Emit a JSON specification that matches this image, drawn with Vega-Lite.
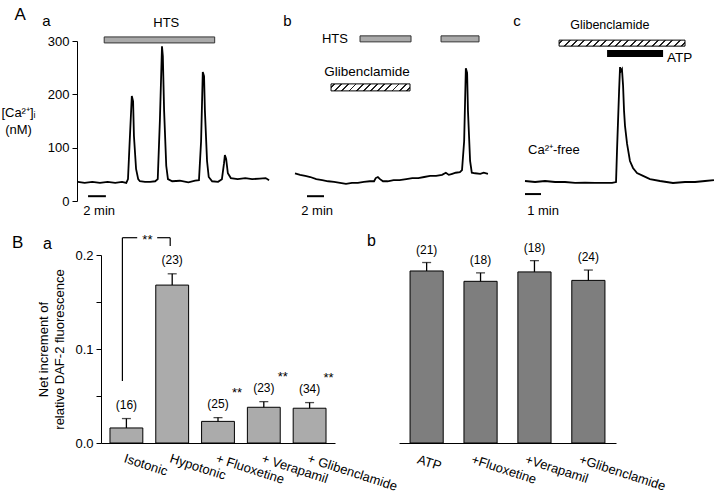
{
  "$schema": "https://vega.github.io/schema/vega-lite/v6.json",
  "background": "white",
  "padding": {"left": 0, "top": 5, "right": 2, "bottom": 2},
  "config": {
    "font": "Liberation Sans",
    "view": {"stroke": null},
    "scale": {"continuousPadding": 0},
    "axis": {"labelColor": "black", "titleColor": "black", "domainColor": "black", "tickColor": "black", "grid": false, "labelFontSize": 13, "titleFontWeight": "normal", "titleFontSize": 13},
    "title": {"fontWeight": "normal", "color": "black", "fontSize": 16}
  },
  "bounds": "flush",
  "spacing": 214,
  "vconcat": [
    {
      "bounds": "flush",
      "spacing": 0,
      "hconcat": [
        {
          "width": 218, "height": 160,
          "layer": [
            {
              "data": {"values": [
                {"t":0.1,"v":36},{"t":0.9,"v":34},{"t":1.8,"v":36},{"t":2.7,"v":34},{"t":3.6,"v":36},{"t":4.5,"v":34},{"t":5.3,"v":36},{"t":5.8,"v":34},
                {"t":6.0,"v":41},{"t":6.2,"v":112},{"t":6.45,"v":197},{"t":6.6,"v":187},{"t":6.7,"v":122},{"t":6.95,"v":60},{"t":7.2,"v":41},{"t":7.4,"v":37},
                {"t":8.0,"v":36},{"t":8.6,"v":36},{"t":9.2,"v":37},{"t":9.5,"v":41},{"t":9.75,"v":150},{"t":10.0,"v":290},{"t":10.1,"v":272},{"t":10.25,"v":169},
                {"t":10.5,"v":66},{"t":10.7,"v":41},{"t":11.2,"v":37},{"t":12.1,"v":38},{"t":13.1,"v":35},{"t":13.9,"v":38},{"t":14.35,"v":39},{"t":14.6,"v":112},
                {"t":14.8,"v":242},{"t":14.95,"v":234},{"t":15.05,"v":169},{"t":15.3,"v":75},{"t":15.5,"v":45},{"t":15.9,"v":37},{"t":16.6,"v":36},{"t":17.05,"v":41},
                {"t":17.3,"v":71},{"t":17.4,"v":86},{"t":17.55,"v":79},{"t":17.75,"v":52},{"t":18.1,"v":43},{"t":18.9,"v":41},{"t":19.8,"v":43},{"t":20.6,"v":41},
                {"t":21.5,"v":42},{"t":22.2,"v":43},{"t":22.6,"v":39}
              ]},
              "mark": {"type": "line", "color": "black", "strokeWidth": 1.8},
              "encoding": {
                "x": {"field": "t", "type": "quantitative", "scale": {"domain": [0, 25.65]}, "axis": null},
                "y": {"field": "v", "type": "quantitative", "scale": {"domain": [0, 300]},
                  "axis": {"values": [0,50,100,150,200,250,300], "labelExpr": "datum.value % 100 == 0 ? datum.label : ''", "tickSize": 5, "labelPadding": 3,
                    "title": ["[Ca²⁺]ᵢ", "(nM)"], "titleAngle": 0, "titleAlign": "center", "titleBaseline": "alphabetic", "titleX": -59, "titleY": 75, "titleLineHeight": 17}}
              }
            },
            {
              "data": {"values": [{"start": 3.2, "end": 16.2}]},
              "mark": {"type": "bar", "height": 6, "fill": "#aaaaaa", "stroke": "#333", "strokeWidth": 1},
              "encoding": {"x": {"field": "start", "type": "quantitative", "scale": {"domain": [0, 25.65]}}, "x2": {"field": "end"}, "y": {"datum": 302, "scale": {"domain": [0, 300]}}}
            },
            {"data": {"values": [{}]}, "mark": {"type": "text", "text": "HTS", "fontSize": 13}, "encoding": {"x": {"datum": 10.5, "scale": {"domain": [0, 25.65]}}, "y": {"datum": 334, "scale": {"domain": [0, 300]}}}},
            {"data": {"values": [{}]}, "mark": {"type": "text", "text": "A", "fontSize": 17}, "encoding": {"x": {"datum": -6.7, "scale": {"domain": [0, 25.65]}}, "y": {"datum": 349, "scale": {"domain": [0, 300]}}}},
            {"data": {"values": [{}]}, "mark": {"type": "text", "text": "a", "fontSize": 15}, "encoding": {"x": {"datum": -3.6, "scale": {"domain": [0, 25.65]}}, "y": {"datum": 338, "scale": {"domain": [0, 300]}}}},
            {
              "data": {"values": [{"start": 1.3, "end": 3.4}]},
              "mark": {"type": "rule", "color": "black", "strokeWidth": 2},
              "encoding": {"x": {"field": "start", "type": "quantitative", "scale": {"domain": [0, 25.65]}}, "x2": {"field": "end"}, "y": {"datum": 9, "scale": {"domain": [0, 300]}}}
            },
            {"data": {"values": [{}]}, "mark": {"type": "text", "text": "2 min", "fontSize": 13}, "encoding": {"x": {"datum": 2.6, "scale": {"domain": [0, 25.65]}}, "y": {"datum": -19, "scale": {"domain": [0, 300]}}}}
          ]
        },
        {
          "width": 230, "height": 160,
          "layer": [
            {
              "data": {"values": [
                {"t":0,"v":52},{"t":0.6,"v":49},{"t":1.2,"v":47},{"t":1.8,"v":45},{"t":2.5,"v":41},{"t":3.2,"v":39},{"t":3.9,"v":37},{"t":4.6,"v":36},
                {"t":5.3,"v":34},{"t":6.0,"v":32},{"t":6.7,"v":34},{"t":7.4,"v":34},{"t":8.1,"v":36},{"t":8.8,"v":37},{"t":9.3,"v":37},{"t":9.5,"v":43},
                {"t":9.75,"v":45},{"t":10.0,"v":41},{"t":10.35,"v":37},{"t":10.9,"v":37},{"t":11.6,"v":39},{"t":12.3,"v":39},{"t":13.1,"v":41},{"t":13.8,"v":43},
                {"t":14.5,"v":43},{"t":15.2,"v":45},{"t":15.9,"v":47},{"t":16.6,"v":47},{"t":17.3,"v":49},{"t":17.75,"v":53},{"t":18.1,"v":49},{"t":18.5,"v":51},
                {"t":18.9,"v":53},{"t":19.4,"v":54},{"t":19.65,"v":58},{"t":19.9,"v":112},{"t":20.1,"v":249},{"t":20.25,"v":240},{"t":20.35,"v":169},{"t":20.6,"v":75},
                {"t":20.8,"v":53},{"t":21.2,"v":52},{"t":21.8,"v":51},{"t":22.2,"v":53},{"t":22.7,"v":51}
              ]},
              "mark": {"type": "line", "color": "black", "strokeWidth": 1.8},
              "encoding": {
                "x": {"field": "t", "type": "quantitative", "scale": {"domain": [0, 27.06]}, "axis": null},
                "y": {"field": "v", "type": "quantitative", "scale": {"domain": [0, 300]}, "axis": null}
              }
            },
            {
              "data": {"values": [{"start": 7.65, "end": 13.65}, {"start": 17.18, "end": 21.65}]},
              "mark": {"type": "bar", "height": 6, "fill": "#aaaaaa", "stroke": "#333", "strokeWidth": 1},
              "encoding": {"x": {"field": "start", "type": "quantitative", "scale": {"domain": [0, 27.06]}}, "x2": {"field": "end"}, "y": {"datum": 304, "scale": {"domain": [0, 300]}}}
            },
            {"data": {"values": [{}]}, "mark": {"type": "text", "text": "HTS", "fontSize": 13}, "encoding": {"x": {"datum": 4.7, "scale": {"domain": [0, 27.06]}}, "y": {"datum": 304, "scale": {"domain": [0, 300]}}}},
            {
              "data": {"values": [{"start": 4.24, "end": 13.53}]},
              "mark": {"type": "bar", "height": 7, "stroke": "black", "strokeWidth": 1,
                "fill": {"gradient": "linear", "x1": 0, "y1": 0, "x2": 1.08, "y2": 0.096, "stops": [
                  {"offset":0,"color":"white"},
                  {"offset":0.031,"color":"white"},{"offset":0.031,"color":"#222"},{"offset":0.053,"color":"#222"},{"offset":0.053,"color":"white"},
                  {"offset":0.114,"color":"white"},{"offset":0.114,"color":"#222"},{"offset":0.136,"color":"#222"},{"offset":0.136,"color":"white"},
                  {"offset":0.197,"color":"white"},{"offset":0.197,"color":"#222"},{"offset":0.219,"color":"#222"},{"offset":0.219,"color":"white"},
                  {"offset":0.281,"color":"white"},{"offset":0.281,"color":"#222"},{"offset":0.303,"color":"#222"},{"offset":0.303,"color":"white"},
                  {"offset":0.364,"color":"white"},{"offset":0.364,"color":"#222"},{"offset":0.386,"color":"#222"},{"offset":0.386,"color":"white"},
                  {"offset":0.447,"color":"white"},{"offset":0.447,"color":"#222"},{"offset":0.469,"color":"#222"},{"offset":0.469,"color":"white"},
                  {"offset":0.531,"color":"white"},{"offset":0.531,"color":"#222"},{"offset":0.553,"color":"#222"},{"offset":0.553,"color":"white"},
                  {"offset":0.614,"color":"white"},{"offset":0.614,"color":"#222"},{"offset":0.636,"color":"#222"},{"offset":0.636,"color":"white"},
                  {"offset":0.697,"color":"white"},{"offset":0.697,"color":"#222"},{"offset":0.719,"color":"#222"},{"offset":0.719,"color":"white"},
                  {"offset":0.781,"color":"white"},{"offset":0.781,"color":"#222"},{"offset":0.803,"color":"#222"},{"offset":0.803,"color":"white"},
                  {"offset":0.864,"color":"white"},{"offset":0.864,"color":"#222"},{"offset":0.886,"color":"#222"},{"offset":0.886,"color":"white"},
                  {"offset":0.947,"color":"white"},{"offset":0.947,"color":"#222"},{"offset":0.969,"color":"#222"},{"offset":0.969,"color":"white"},
                  {"offset":1,"color":"white"}
                ]}},
              "encoding": {"x": {"field": "start", "type": "quantitative", "scale": {"domain": [0, 27.06]}}, "x2": {"field": "end"}, "y": {"datum": 213, "scale": {"domain": [0, 300]}}}
            },
            {"data": {"values": [{}]}, "mark": {"type": "text", "text": "Glibenclamide", "fontSize": 13.5}, "encoding": {"x": {"datum": 8.47, "scale": {"domain": [0, 27.06]}}, "y": {"datum": 242, "scale": {"domain": [0, 300]}}}},
            {"data": {"values": [{}]}, "mark": {"type": "text", "text": "b", "fontSize": 15}, "encoding": {"x": {"datum": -0.9, "scale": {"domain": [0, 27.06]}}, "y": {"datum": 338, "scale": {"domain": [0, 300]}}}},
            {
              "data": {"values": [{"start": 1.41, "end": 3.41}]},
              "mark": {"type": "rule", "color": "black", "strokeWidth": 2},
              "encoding": {"x": {"field": "start", "type": "quantitative", "scale": {"domain": [0, 27.06]}}, "x2": {"field": "end"}, "y": {"datum": 9, "scale": {"domain": [0, 300]}}}
            },
            {"data": {"values": [{}]}, "mark": {"type": "text", "text": "2 min", "fontSize": 13}, "encoding": {"x": {"datum": 2.6, "scale": {"domain": [0, 27.06]}}, "y": {"datum": -19, "scale": {"domain": [0, 300]}}}}
          ]
        },
        {
          "width": 190, "height": 160,
          "layer": [
            {
              "data": {"values": [
                {"t":0,"v":37.5},{"t":0.63,"v":35.6},{"t":1.25,"v":37.5},{"t":1.88,"v":35.6},{"t":2.5,"v":35.6},{"t":3.13,"v":33.8},{"t":3.75,"v":34.5},
                {"t":4.38,"v":33.8},{"t":5.0,"v":33.8},{"t":5.44,"v":33.8},{"t":5.69,"v":35.6},{"t":5.75,"v":94},{"t":5.88,"v":206},{"t":5.94,"v":251},
                {"t":6.0,"v":244},{"t":6.06,"v":247},{"t":6.13,"v":216},{"t":6.19,"v":169},{"t":6.25,"v":141},{"t":6.38,"v":107},{"t":6.56,"v":75},
                {"t":6.75,"v":62},{"t":7.0,"v":52.5},{"t":7.38,"v":47},{"t":7.81,"v":41},{"t":8.44,"v":37.5},{"t":9.25,"v":33.8},{"t":10.0,"v":35.6},
                {"t":10.63,"v":35.6},{"t":11.25,"v":37.5},{"t":11.81,"v":39}
              ]},
              "mark": {"type": "line", "color": "black", "strokeWidth": 1.8},
              "encoding": {
                "x": {"field": "t", "type": "quantitative", "scale": {"domain": [0, 11.875]}, "axis": null},
                "y": {"field": "v", "type": "quantitative", "scale": {"domain": [0, 300]}, "axis": null}
              }
            },
            {
              "data": {"values": [{"start": 2.13, "end": 10.0}]},
              "mark": {"type": "bar", "height": 6, "stroke": "black", "strokeWidth": 1,
                "fill": {"gradient": "linear", "x1": 0, "y1": 0, "x2": 1.045, "y2": 0.05, "stops": [
                  {"offset":0,"color":"white"},
                  {"offset":0.020,"color":"white"},{"offset":0.020,"color":"#222"},{"offset":0.036,"color":"#222"},{"offset":0.036,"color":"white"},
                  {"offset":0.075,"color":"white"},{"offset":0.075,"color":"#222"},{"offset":0.091,"color":"#222"},{"offset":0.091,"color":"white"},
                  {"offset":0.131,"color":"white"},{"offset":0.131,"color":"#222"},{"offset":0.147,"color":"#222"},{"offset":0.147,"color":"white"},
                  {"offset":0.186,"color":"white"},{"offset":0.186,"color":"#222"},{"offset":0.202,"color":"#222"},{"offset":0.202,"color":"white"},
                  {"offset":0.242,"color":"white"},{"offset":0.242,"color":"#222"},{"offset":0.258,"color":"#222"},{"offset":0.258,"color":"white"},
                  {"offset":0.298,"color":"white"},{"offset":0.298,"color":"#222"},{"offset":0.314,"color":"#222"},{"offset":0.314,"color":"white"},
                  {"offset":0.353,"color":"white"},{"offset":0.353,"color":"#222"},{"offset":0.369,"color":"#222"},{"offset":0.369,"color":"white"},
                  {"offset":0.409,"color":"white"},{"offset":0.409,"color":"#222"},{"offset":0.425,"color":"#222"},{"offset":0.425,"color":"white"},
                  {"offset":0.464,"color":"white"},{"offset":0.464,"color":"#222"},{"offset":0.480,"color":"#222"},{"offset":0.480,"color":"white"},
                  {"offset":0.520,"color":"white"},{"offset":0.520,"color":"#222"},{"offset":0.536,"color":"#222"},{"offset":0.536,"color":"white"},
                  {"offset":0.575,"color":"white"},{"offset":0.575,"color":"#222"},{"offset":0.591,"color":"#222"},{"offset":0.591,"color":"white"},
                  {"offset":0.631,"color":"white"},{"offset":0.631,"color":"#222"},{"offset":0.647,"color":"#222"},{"offset":0.647,"color":"white"},
                  {"offset":0.686,"color":"white"},{"offset":0.686,"color":"#222"},{"offset":0.702,"color":"#222"},{"offset":0.702,"color":"white"},
                  {"offset":0.742,"color":"white"},{"offset":0.742,"color":"#222"},{"offset":0.758,"color":"#222"},{"offset":0.758,"color":"white"},
                  {"offset":0.798,"color":"white"},{"offset":0.798,"color":"#222"},{"offset":0.814,"color":"#222"},{"offset":0.814,"color":"white"},
                  {"offset":0.853,"color":"white"},{"offset":0.853,"color":"#222"},{"offset":0.869,"color":"#222"},{"offset":0.869,"color":"white"},
                  {"offset":0.909,"color":"white"},{"offset":0.909,"color":"#222"},{"offset":0.925,"color":"#222"},{"offset":0.925,"color":"white"},
                  {"offset":0.964,"color":"white"},{"offset":0.964,"color":"#222"},{"offset":0.980,"color":"#222"},{"offset":0.980,"color":"white"},
                  {"offset":1,"color":"white"}
                ]}},
              "encoding": {"x": {"field": "start", "type": "quantitative", "scale": {"domain": [0, 11.875]}}, "x2": {"field": "end"}, "y": {"datum": 296, "scale": {"domain": [0, 300]}}}
            },
            {
              "data": {"values": [{"start": 5.13, "end": 8.63}]},
              "mark": {"type": "bar", "height": 7, "fill": "black"},
              "encoding": {"x": {"field": "start", "type": "quantitative", "scale": {"domain": [0, 11.875]}}, "x2": {"field": "end"}, "y": {"datum": 276.5, "scale": {"domain": [0, 300]}}}
            },
            {"data": {"values": [{}]}, "mark": {"type": "text", "text": "Glibenclamide", "fontSize": 12.5}, "encoding": {"x": {"datum": 5.3, "scale": {"domain": [0, 11.875]}}, "y": {"datum": 330, "scale": {"domain": [0, 300]}}}},
            {"data": {"values": [{}]}, "mark": {"type": "text", "text": "ATP", "fontSize": 13.5, "align": "left"}, "encoding": {"x": {"datum": 8.88, "scale": {"domain": [0, 11.875]}}, "y": {"datum": 268, "scale": {"domain": [0, 300]}}}},
            {"data": {"values": [{}]}, "mark": {"type": "text", "text": "Ca²⁺-free", "fontSize": 13, "align": "left"}, "encoding": {"x": {"datum": 0.19, "scale": {"domain": [0, 11.875]}}, "y": {"datum": 96, "scale": {"domain": [0, 300]}}}},
            {"data": {"values": [{}]}, "mark": {"type": "text", "text": "c", "fontSize": 15}, "encoding": {"x": {"datum": -0.5, "scale": {"domain": [0, 11.875]}}, "y": {"datum": 338, "scale": {"domain": [0, 300]}}}},
            {
              "data": {"values": [{"start": 0, "end": 1}]},
              "mark": {"type": "rule", "color": "black", "strokeWidth": 2},
              "encoding": {"x": {"field": "start", "type": "quantitative", "scale": {"domain": [0, 11.875]}}, "x2": {"field": "end"}, "y": {"datum": 13, "scale": {"domain": [0, 300]}}}
            },
            {"data": {"values": [{}]}, "mark": {"type": "text", "text": "1 min", "fontSize": 13}, "encoding": {"x": {"datum": 1.13, "scale": {"domain": [0, 11.875]}}, "y": {"datum": -19, "scale": {"domain": [0, 300]}}}}
          ]
        }
      ]
    },
    {
      "bounds": "flush",
      "spacing": 0,
      "hconcat": [
        {
          "width": 24, "height": 188,
          "title": {"text": "B", "anchor": "start", "frame": "group", "dx": -65, "offset": -10, "baseline": "alphabetic", "fontSize": 17},
          "data": {"values": [{}]}, "mark": {"type": "point", "opacity": 0}
        },
        {
          "width": 234, "height": 188,
          "title": {"text": "a", "anchor": "start", "frame": "group", "dx": -58, "offset": -31, "baseline": "alphabetic", "fontSize": 16},
          "data": {"values": [
            {"cond": "Isotonic", "mean": 0.016, "upper": 0.026, "n": "(16)", "sig": ""},
            {"cond": "Hypotonic", "mean": 0.168, "upper": 0.180, "n": "(23)", "sig": ""},
            {"cond": "+ Fluoxetine", "mean": 0.023, "upper": 0.027, "n": "(25)", "sig": "**"},
            {"cond": "+ Verapamil", "mean": 0.038, "upper": 0.044, "n": "(23)", "sig": "**"},
            {"cond": "+ Glibenclamide", "mean": 0.037, "upper": 0.043, "n": "(34)", "sig": "**"}
          ]},
          "encoding": {
            "x": {"field": "cond", "type": "nominal", "sort": null, "scale": {"paddingInner": 0.283, "paddingOuter": 0.196},
              "axis": {"title": null, "labelAngle": 18, "labelAlign": "left", "labelBaseline": "top", "ticks": false, "labelPadding": 9, "labelOverlap": false, "labelBound": false, "labelFontSize": 13}}
          },
          "layer": [
            {
              "mark": {"type": "bar", "fill": "#ababab", "stroke": "black", "strokeWidth": 1},
              "encoding": {"y": {"field": "mean", "type": "quantitative", "scale": {"domain": [0, 0.2]},
                "axis": {"values": [0, 0.05, 0.1, 0.15, 0.2], "labelExpr": "round(datum.value*100) % 10 == 0 ? format(datum.value, '.1f') : ''", "tickSize": 5, "labelPadding": 3,
                  "title": ["Net increment of", "relative DAF-2 fluorescence"], "titlePadding": 8, "titleLineHeight": 16}}}
            },
            {"mark": {"type": "rule", "color": "black", "strokeWidth": 1.3}, "encoding": {"y": {"field": "mean", "type": "quantitative", "scale": {"domain": [0, 0.2]}}, "y2": {"field": "upper"}}},
            {"mark": {"type": "tick", "color": "black", "thickness": 1.3, "size": 9}, "encoding": {"y": {"field": "upper", "type": "quantitative", "scale": {"domain": [0, 0.2]}}}},
            {"mark": {"type": "text", "dy": -14, "fontSize": 12}, "encoding": {"y": {"field": "upper", "type": "quantitative", "scale": {"domain": [0, 0.2]}}, "text": {"field": "n"}}},
            {"mark": {"type": "text", "dx": 19, "dy": -25, "fontSize": 13}, "encoding": {"y": {"field": "upper", "type": "quantitative", "scale": {"domain": [0, 0.2]}}, "text": {"field": "sig"}}},
            {"data": {"values": [{}]}, "mark": {"type": "rule", "color": "black", "strokeWidth": 1.2, "xOffset": -4},
              "encoding": {"x": {"datum": "Isotonic"}, "y": {"datum": 0.066, "scale": {"domain": [0, 0.2]}}, "y2": {"datum": 0.2184}}},
            {"data": {"values": [{}]}, "mark": {"type": "rule", "color": "black", "strokeWidth": 1.2, "xOffset": -4, "x2Offset": -35},
              "encoding": {"x": {"datum": "Isotonic"}, "x2": {"datum": "Hypotonic"}, "y": {"datum": 0.2184, "scale": {"domain": [0, 0.2]}}}},
            {"data": {"values": [{}]}, "mark": {"type": "rule", "color": "black", "strokeWidth": 1.2, "xOffset": -15, "x2Offset": -2},
              "encoding": {"x": {"datum": "Hypotonic"}, "x2": {"datum": "Hypotonic"}, "y": {"datum": 0.2184, "scale": {"domain": [0, 0.2]}}}},
            {"data": {"values": [{}]}, "mark": {"type": "rule", "color": "black", "strokeWidth": 1.2, "xOffset": -2},
              "encoding": {"x": {"datum": "Hypotonic"}, "y": {"datum": 0.2096, "scale": {"domain": [0, 0.2]}}, "y2": {"datum": 0.2184}}},
            {"data": {"values": [{}]}, "mark": {"type": "text", "text": "**", "fontSize": 13, "xOffset": 21, "dy": 2},
              "encoding": {"x": {"datum": "Isotonic"}, "y": {"datum": 0.2184, "scale": {"domain": [0, 0.2]}}}}
          ]
        },
        {"width": 64, "height": 188, "data": {"values": [{}]}, "mark": {"type": "point", "opacity": 0}},
        {
          "width": 217, "height": 188,
          "title": {"text": "b", "anchor": "start", "frame": "group", "dx": -32, "offset": -20, "baseline": "alphabetic", "fontSize": 16},
          "data": {"values": [
            {"cond": "ATP", "mean": 0.183, "upper": 0.192, "n": "(21)"},
            {"cond": "+Fluoxetine", "mean": 0.172, "upper": 0.181, "n": "(18)"},
            {"cond": "+Verapamil", "mean": 0.182, "upper": 0.194, "n": "(18)"},
            {"cond": "+Glibenclamide", "mean": 0.173, "upper": 0.184, "n": "(24)"}
          ]},
          "encoding": {
            "x": {"field": "cond", "type": "nominal", "sort": null, "scale": {"paddingInner": 0.385, "paddingOuter": 0.205},
              "axis": {"title": null, "labelAngle": 18, "labelAlign": "left", "labelBaseline": "top", "ticks": false, "labelPadding": 10, "labelOffset": -7, "labelOverlap": false, "labelBound": false, "labelFontSize": 13}}
          },
          "layer": [
            {"mark": {"type": "bar", "fill": "#7e7e7e", "stroke": "black", "strokeWidth": 1},
              "encoding": {"y": {"field": "mean", "type": "quantitative", "scale": {"domain": [0, 0.2]}, "axis": null}}},
            {"mark": {"type": "rule", "color": "black", "strokeWidth": 1.3}, "encoding": {"y": {"field": "mean", "type": "quantitative", "scale": {"domain": [0, 0.2]}}, "y2": {"field": "upper"}}},
            {"mark": {"type": "tick", "color": "black", "thickness": 1.3, "size": 9}, "encoding": {"y": {"field": "upper", "type": "quantitative", "scale": {"domain": [0, 0.2]}}}},
            {"mark": {"type": "text", "dy": -13, "fontSize": 12}, "encoding": {"y": {"field": "upper", "type": "quantitative", "scale": {"domain": [0, 0.2]}}, "text": {"field": "n"}}}
          ]
        }
      ]
    }
  ]
}
